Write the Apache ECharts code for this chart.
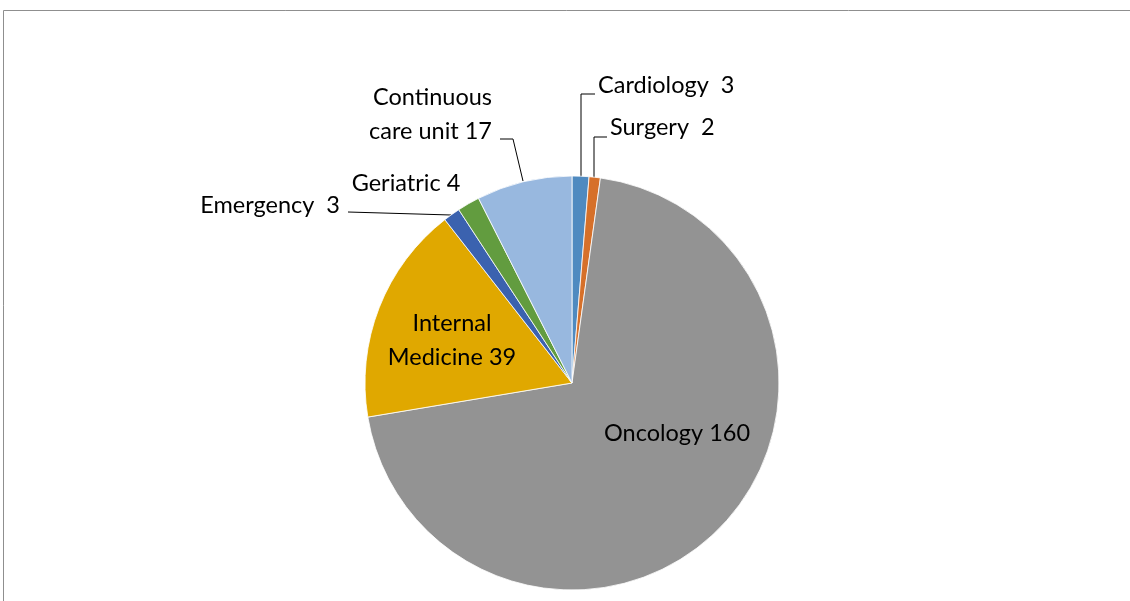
<!DOCTYPE html>
<html>
	<head>
		<meta charset="utf-8">
		<script src="https://cdn.jsdelivr.net/npm/echarts@6/dist/echarts.min.js"></script>
		<style>
			html, body { margin:0; padding:0; background:#fff; }
			#main { width:1130px; height:601px; }
		</style>
	</head>
	<body>
		<div id="main"></div>
		<script>
			// departments, clockwise from 12 o'clock
			var departments = ['Cardiology', 'Surgery', 'Oncology', 'Internal Medicine', 'Emergency', 'Geriatric', 'Continuous care unit'];
			var counts = [3, 2, 160, 39, 3, 4, 17];
			var labelTexts = ['Cardiology  3', 'Surgery  2', 'Oncology 160', 'Internal\nMedicine 39', 'Emergency  3', 'Geriatric 4', 'Continuous\ncare unit 17'];
			var colors = ['#4f8ac0', '#d6702a', '#939393', '#e0a800', '#3b62af', '#629c3f', '#98b8df'];

			// where the labels sit (Excel-like manual placement)
			var labelPos = [
				{x: 598, y: 85, align: 'left', line: [[581, 177], [581, 94], [595, 94]]},
				{x: 610, y: 127, align: 'left', line: [[594, 178], [594, 137], [607, 137]]},
				{x: 677, y: 433, align: 'center'},
				{x: 452, y: 340, align: 'center'},
				{x: 340, y: 205, align: 'right', line: [[451, 215], [348, 212]]},
				{x: 406, y: 183, align: 'center'},
				{x: 492, y: 114, align: 'right', line: [[523, 181], [513, 139], [500, 139]]}
			];

			var pieData = [];
			for (var i = 0; i < departments.length; i++) {
				var inside = (i == 2 || i == 3);
				pieData.push({
					name: departments[i],
					value: counts[i],
					itemStyle: {color: colors[i]},
					label: {position: inside ? 'inside' : 'outside', formatter: labelTexts[i]},
					labelLine: {show: !!labelPos[i].line}
				});
			}

			var option = {
				animation: false,
				graphic: [
					{type: 'line', shape: {x1: 3.5, y1: 10.5, x2: 1130, y2: 10.5}, style: {stroke: '#8f8f8f', lineWidth: 1}},
					{type: 'line', shape: {x1: 3.5, y1: 10.5, x2: 3.5, y2: 601}, style: {stroke: '#8f8f8f', lineWidth: 1}}
				],
				series: [
					{
						type: 'pie',
						center: [572, 383],
						radius: 207,
						startAngle: 90,
						clockwise: true,
						data: pieData,
						itemStyle: {borderColor: '#ffffff', borderWidth: 0.8},
						label: {
							color: '#000',
							fontFamily: 'Lato',
							fontSize: 23.5,
							lineHeight: 34
						},
						labelLine: {lineStyle: {color: '#000', width: 1}},
						labelLayout: function (params) {
							var p = labelPos[params.dataIndex];
							var res = {x: p.x, y: p.y, align: p.align, verticalAlign: 'middle'};
							if (p.line) res.labelLinePoints = p.line;
							return res;
						}
					}
				]
			};
			var myChart = echarts.init(document.getElementById('main'));
			myChart.setOption(option, true);
		</script>
	</body>
</html>
